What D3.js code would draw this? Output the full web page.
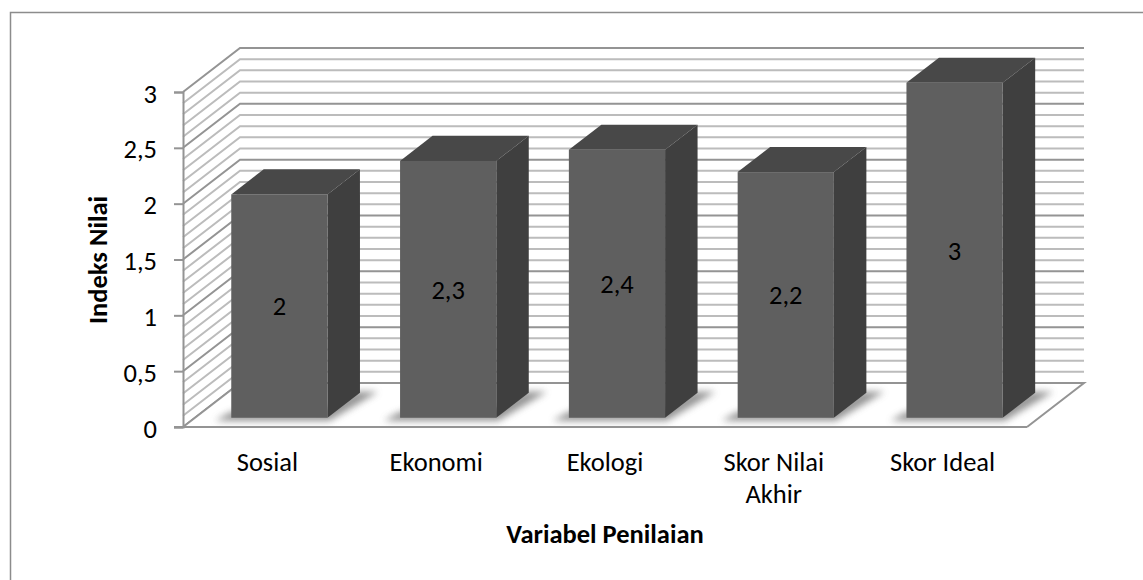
<!DOCTYPE html>
<html>
<head>
<meta charset="utf-8">
<script src="https://cdn.jsdelivr.net/npm/d3@7"></script>
<style>
  html, body { margin: 0; padding: 0; background: #fff; }
  text { font-family: Carlito, Calibri, "Open Sans", "Noto Sans", sans-serif; fill: #000; }
</style>
</head>
<body>
<svg id="chart"></svg>
<script>
var categories = [["Sosial"], ["Ekonomi"], ["Ekologi"], ["Skor Nilai", "Akhir"], ["Skor Ideal"]]
var values = [2, 2.3, 2.4, 2.2, 3]
var valueLabels = ["2", "2,3", "2,4", "2,2", "3"]
var yTicks = [0, 0.5, 1, 1.5, 2, 2.5, 3]
var yTickLabels = ["0", "0,5", "1", "1,5", "2", "2,5", "3"]
var gridStep = [0, 0.1, 0.2, 0.3, 0.4, 0.5, 0.6, 0.7, 0.8, 0.9, 1, 1.1, 1.2, 1.3, 1.4, 1.5,
    1.6, 1.7, 1.8, 1.9, 2, 2.1, 2.2, 2.3, 2.4, 2.5, 2.6, 2.7, 2.8, 2.9, 3]

var width = 1143
var height = 580
var fontSize = 26.5

/* Plot box, front plane + how far the back wall is shifted */
var left = 183, right = 1027, top_ = 92, bottom = 427
var depthX = 57, depthY = -44

/* Bars sit inside the floor, this is the fraction of depth */
var barFront = 0.21, barBack = 0.78

var line = d3.line()

var svg = d3.select("#chart")
    .attr("width", width)
    .attr("height", height)
    .style("display", "block")

var defs = svg.append("defs")
defs.append("filter").attr("id", "soft")
    .attr("x", "-20%").attr("y", "-40%").attr("width", "140%").attr("height", "180%")
    .append("feGaussianBlur").attr("stdDeviation", 3.5)

/* Outer frame, only top and left are inside the picture */
svg.append("path")
    .attr("d", line([[10.5, height], [10.5, 12.5], [width, 12.5]]))
    .attr("fill", "none").attr("stroke", "#8c8c8c").attr("stroke-width", 1.5)

/* Scales */
var xScale = d3.scaleBand()
    .domain(d3.range(categories.length))
    .range([left, right])

var yScale = d3.scaleLinear()
    .domain([0, 3])
    .range([bottom, top_])

/* Grid: side wall and back wall */
var grid = svg.append("g").attr("fill", "none")
grid.selectAll("path")
    .data(gridStep)
    .enter()
    .append("path")
        .attr("d", (d) => line([
            [left, yScale(d)],
            [left + depthX, yScale(d) + depthY],
            [right + depthX, yScale(d) + depthY]
        ]))
        .attr("stroke", (d, i) => i % 5 == 0 ? "#949494" : "#bcbcbc")
        .attr("stroke-width", 2)

/* Floor */
svg.append("path")
    .attr("d", line([
        [left, bottom],
        [left + depthX, bottom + depthY],
        [right + depthX, bottom + depthY],
        [right, bottom]
    ]) + "Z")
    .attr("fill", "#fff")
    .attr("stroke", "none")
svg.append("path")
    .attr("d", line([
        [left, bottom],
        [left + depthX, bottom + depthY]
    ]))
    .attr("stroke", "#949494").attr("stroke-width", 2)
svg.append("path")
    .attr("d", line([
        [left + depthX, bottom + depthY],
        [right + depthX, bottom + depthY],
        [right, bottom]
    ]))
    .attr("fill", "none").attr("stroke", "#949494").attr("stroke-width", 2)

/* Bars */
var barWidth = xScale.bandwidth() * 0.57
var fx = (i) => xScale(i) + (xScale.bandwidth() - barWidth) / 2 + depthX * barFront
var fy = (v) => yScale(v) + depthY * barFront
var bdx = depthX * (barBack - barFront)
var bdy = depthY * (barBack - barFront)

var bars = svg.append("g").selectAll("g")
    .data(values)
    .enter()
    .append("g")

/* floor shadow */
bars.append("path")
    .attr("d", (d, i) => line([
        [fx(i) - 16, fy(0) + 3],
        [fx(i) + barWidth + 2, fy(0) + 3],
        [fx(i) + barWidth + bdx + 18, fy(0) + bdy - 1],
        [fx(i) + barWidth + bdx - 4, fy(0) + bdy - 1],
        [fx(i) + barWidth - 6, fy(0) - 6],
        [fx(i), fy(0) - 6]
    ]) + "Z")
    .attr("fill", "#666")
    .attr("opacity", 0.7)
    .attr("filter", "url(#soft)")

/* top */
bars.append("path")
    .attr("d", (d, i) => line([
        [fx(i), fy(d)],
        [fx(i) + bdx, fy(d) + bdy],
        [fx(i) + barWidth + bdx, fy(d) + bdy],
        [fx(i) + barWidth, fy(d)]
    ]) + "Z")
    .attr("fill", "#484848")

/* side */
bars.append("path")
    .attr("d", (d, i) => line([
        [fx(i) + barWidth, fy(d)],
        [fx(i) + barWidth + bdx, fy(d) + bdy],
        [fx(i) + barWidth + bdx, fy(0) + bdy],
        [fx(i) + barWidth, fy(0)]
    ]) + "Z")
    .attr("fill", "#3f3f3f")

/* front */
bars.append("rect")
    .attr("x", (d, i) => fx(i))
    .attr("y", (d) => fy(d))
    .attr("width", barWidth)
    .attr("height", (d) => fy(0) - fy(d))
    .attr("fill", "#5f5f5f")

/* Value labels */
bars.append("text")
    .attr("x", (d, i) => fx(i) + barWidth / 2)
    .attr("y", (d) => (fy(d) + fy(0)) / 2)
    .attr("dy", "0.35em")
    .attr("text-anchor", "middle")
    .attr("font-size", fontSize)
    .text((d, i) => valueLabels[i])

/* Y axis */
var yAxis = d3.axisLeft(yScale)
    .tickValues(yTicks)
    .tickSize(9)
    .tickPadding(17)
    .tickFormat((d, i) => yTickLabels[i])

var yG = svg.append("g")
    .attr("transform", "translate(" + left + ",0)")
    .call(yAxis)
yG.selectAll("line, path").attr("stroke", "#949494").attr("stroke-width", 2)
yG.selectAll("text").attr("font-size", fontSize).attr("dy", "0.38em").style("font-family", null)

/* X axis baseline */
svg.append("line")
    .attr("x1", left - 9).attr("x2", right)
    .attr("y1", bottom).attr("y2", bottom)
    .attr("stroke", "#949494").attr("stroke-width", 2)

/* Category labels */
svg.append("g").selectAll("text")
    .data(categories)
    .enter()
    .append("text")
        .attr("text-anchor", "middle")
        .attr("font-size", fontSize)
        .attr("y", 471)
        .each(function (d, i) {
            d3.select(this).selectAll("tspan")
                .data(d)
                .enter()
                .append("tspan")
                    .attr("x", xScale(i) + xScale.bandwidth() / 2)
                    .attr("dy", (t, j) => j == 0 ? 0 : 32)
                    .text((t) => t)
        })

/* Axis titles */
svg.append("text")
    .attr("x", 605).attr("y", 543)
    .attr("text-anchor", "middle")
    .attr("font-size", fontSize).attr("font-weight", "bold")
    .text("Variabel Penilaian")

svg.append("text")
    .attr("transform", "translate(107,260) rotate(-90)")
    .attr("text-anchor", "middle")
    .attr("font-size", fontSize).attr("font-weight", "bold")
    .text("Indeks Nilai")
</script>
</body>
</html>
